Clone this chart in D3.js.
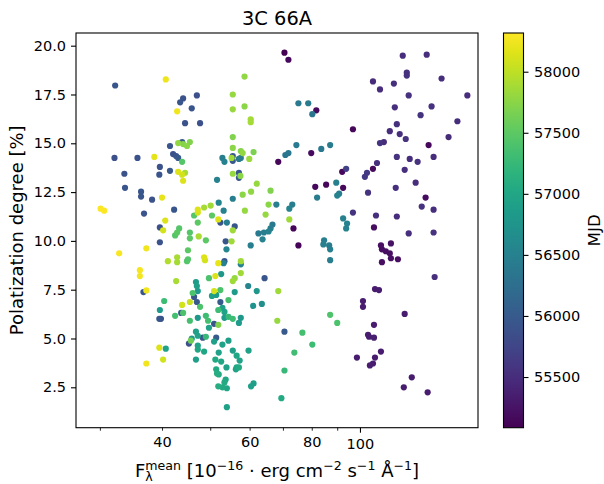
<!DOCTYPE html>
<html>
<head>
<meta charset="utf-8">
<script src="https://cdn.jsdelivr.net/npm/d3@7"></script>
<style>
  body { margin: 0; background: #fff; }
  text { font-family: "DejaVu Sans", sans-serif; fill: #000; }
</style>
</head>
<body>
<svg id="chart"></svg>
<script>

// mean flux density (10^-16 erg cm^-2 s^-1 A^-1)
const flux = [
  32.2, 40.7, 44.1, 43.5, 47.0, 45.9, 42.9, 44.5, 47.7, 41.5,
  43.9, 43.1, 44.1, 44.9, 45.5, 42.1, 42.7, 43.1, 43.9, 32.1,
  35.7, 38.6, 70.5, 71.8, 58.6, 55.5, 58.6, 55.5, 60.3, 60.3,
  75.2, 78.7, 80.2, 81.7, 55.5, 55.5, 57.6, 58.1, 61.1, 52.9,
  53.4, 55.2, 55.5, 57.1, 57.6, 59.9, 55.5, 74.5, 71.8, 70.8,
  79.8, 83.6, 87.1, 68.5, 121.9, 136.2, 124.2, 124.2, 106.2, 109.7,
  117.0, 145.9, 125.3, 164.4, 117.5, 139.3, 132.4, 157.0, 118.6, 96.8,
  114.8, 120.2, 123.6, 109.7, 111.7, 150.7, 137.4, 108.2, 118.6, 125.9,
  130.6, 140.6, 93.8, 92.1, 106.2, 103.3, 102.3, 85.5, 89.6, 92.5,
  90.8, 90.0, 103.8, 118.0, 123.0, 129.4, 135.5, 133.1, 140.6, 96.8,
  107.7, 118.6, 92.5, 94.2, 93.8, 106.7, 125.3, 140.6, 84.7, 84.4,
  86.7, 87.1, 87.1, 110.2, 110.7, 112.7, 114.8, 115.4, 115.4, 119.2,
  110.7, 141.3, 81.3, 82.0, 73.5, 75.2, 107.2, 109.2, 101.4, 101.4,
  87.1, 90.0, 123.0, 106.7, 103.8, 104.3, 106.7, 110.2, 98.6, 107.2,
  106.2, 104.7, 127.1, 122.5, 136.8, 68.5, 62.0, 61.0, 63.5, 68.2,
  70.5, 76.6, 80.2, 73.8, 70.5, 69.5, 59.7, 60.4, 61.1, 54.0,
  50.9, 52.4, 56.0, 46.4, 47.0, 47.7, 50.4, 51.4, 52.4, 54.4,
  51.9, 52.9, 53.4, 49.0, 49.5, 47.2, 53.4, 54.4, 55.5, 57.6,
  57.1, 50.9, 51.9, 49.7, 46.8, 47.2, 49.0, 48.3, 45.7, 51.4,
  50.9, 52.9, 54.4, 47.2, 47.2, 48.6, 52.0, 55.5, 56.5, 57.3,
  46.8, 51.2, 52.6, 53.9, 56.5, 57.1, 56.3, 51.4, 51.6, 52.0,
  53.7, 53.4, 51.9, 52.9, 54.0, 36.7, 37.2, 40.4, 39.6, 39.5,
  39.8, 42.5, 43.9, 43.7, 44.1, 45.5, 45.5, 46.1, 45.9, 45.3,
  39.5, 40.7, 40.2, 37.2, 33.6, 33.7, 36.3, 36.3, 38.2, 36.8,
  39.6, 39.5, 41.5, 43.1, 43.9, 44.5, 44.1, 40.0, 42.3, 30.1,
  30.6, 40.6, 39.6, 40.2, 43.3, 42.9, 42.5, 45.5, 45.5, 47.4,
  46.4, 47.2, 47.2, 47.2, 39.6, 32.8, 37.2, 41.1, 42.9, 42.9,
  44.9, 45.1, 45.1, 36.1, 36.1, 42.7, 46.8, 47.0, 47.2, 55.5,
  57.1, 57.5, 57.1, 51.6, 62.0, 58.1, 60.4, 66.1, 55.5, 52.0,
  50.1, 48.6, 53.2, 58.7, 50.4, 51.9, 52.4, 54.0, 56.0, 55.5,
  67.9, 65.5, 64.6, 72.1, 73.1, 72.1, 66.7, 66.1, 65.5, 64.1,
  62.5, 63.7, 49.0, 53.7, 55.2, 53.9, 60.3, 48.6, 48.8, 53.4,
  53.2, 51.9, 57.6, 57.6, 57.6, 56.0, 55.5, 64.3, 52.6, 51.2,
  49.7, 59.6
];

// polarization degree (%)
const polDeg = [
  17.96, 18.27, 17.30, 17.10, 17.45, 16.79, 16.64, 16.03, 16.03, 14.86,
  15.06, 15.01, 14.96, 14.86, 15.06, 14.45, 14.35, 14.25, 14.05, 14.25,
  14.25, 14.30, 19.64, 19.28, 18.42, 17.50, 16.89, 16.74, 16.23, 16.08,
  17.05, 17.05, 16.49, 16.69, 15.32, 14.76, 14.60, 14.50, 14.55, 14.25,
  14.05, 14.25, 14.35, 14.20, 14.25, 14.20, 14.10, 14.91, 14.50, 14.40,
  14.50, 14.71, 14.91, 14.05, 19.49, 19.54, 18.62, 18.47, 18.17, 17.76,
  18.06, 18.32, 17.45, 17.45, 16.84, 16.89, 16.44, 16.13, 15.98, 15.72,
  15.62, 15.47, 15.22, 15.01, 15.06, 15.32, 14.91, 13.99, 14.30, 14.20,
  14.05, 14.30, 13.69, 13.54, 13.69, 13.49, 13.28, 12.88, 12.98, 12.72,
  12.42, 12.32, 12.47, 12.72, 13.64, 12.98, 12.22, 11.76, 11.60, 11.45,
  11.30, 11.25, 11.15, 10.89, 10.64, 10.69, 10.38, 10.43, 10.03, 9.82,
  9.77, 9.57, 9.01, 9.77, 9.57, 9.47, 9.36, 9.11, 9.87, 9.06,
  8.91, 8.15, 12.77, 12.22, 10.64, 9.77, 7.53, 7.48, 6.92, 6.62,
  6.21, 5.80, 6.26, 5.70, 5.19, 5.09, 5.04, 4.33, 4.02, 4.02,
  3.72, 3.62, 3.01, 2.50, 2.24, 7.43, 7.43, 6.67, 6.77, 5.91,
  5.35, 5.30, 4.69, 4.28, 3.36, 1.94, 4.38, 2.55, 2.70, 1.48,
  7.43, 7.48, 7.38, 7.13, 6.87, 6.62, 7.18, 7.23, 6.87, 6.97,
  6.46, 6.57, 6.36, 6.16, 5.91, 6.06, 6.06, 6.11, 6.01, 6.06,
  5.80, 5.75, 5.70, 5.55, 5.35, 5.14, 5.09, 5.04, 4.89, 5.04,
  4.84, 4.69, 4.89, 4.63, 4.43, 4.33, 4.28, 4.38, 4.12, 3.87,
  3.92, 3.92, 3.82, 3.52, 3.52, 3.52, 3.42, 3.42, 3.21, 3.16,
  2.90, 2.75, 2.55, 2.50, 2.45, 7.38, 7.46, 6.92, 6.46, 6.01,
  6.01, 6.16, 6.72, 6.31, 6.31, 5.91, 6.87, 7.33, 4.99, 4.74,
  4.53, 4.48, 3.92, 3.72, 13.44, 12.72, 12.52, 12.27, 12.11, 11.40,
  13.79, 13.39, 13.59, 13.54, 13.39, 13.49, 13.08, 12.22, 11.60, 11.65,
  11.55, 11.04, 10.69, 10.54, 10.64, 10.43, 10.28, 10.43, 10.13, 10.23,
  11.30, 10.94, 11.60, 11.45, 9.93, 9.36, 9.62, 8.96, 9.16, 8.91,
  8.96, 9.52, 9.06, 8.50, 8.20, 7.94, 7.89, 7.69, 7.43, 13.44,
  13.49, 13.33, 13.23, 13.13, 12.93, 12.37, 12.52, 12.57, 12.16, 11.96,
  11.81, 11.71, 11.55, 11.55, 11.30, 11.10, 10.94, 10.94, 10.74, 10.54,
  11.86, 11.86, 11.35, 11.65, 11.86, 11.10, 10.84, 10.64, 10.48, 10.43,
  10.38, 10.08, 10.03, 9.98, 9.98, 9.57, 9.77, 9.16, 9.01, 8.96,
  8.86, 8.86, 8.96, 8.80, 8.35, 8.09, 7.94, 8.09, 8.30, 8.20,
  8.09, 7.69
];

// observation date (MJD)
const mjd = [
  55950, 58230, 55900, 55920, 55880, 55930, 58250, 55900, 55870, 55950,
  56000, 57780, 57720, 57760, 57700, 55900, 55930, 55960, 57450, 55870,
  55900, 58180, 55085, 55160, 57780, 57800, 57750, 57820, 57870, 57880,
  56400, 56420, 56350, 55170, 57700, 57760, 57720, 57790, 57680, 56450,
  56500, 57850, 55950, 56380, 56420, 57830, 55980, 56400, 56360, 56330,
  55180, 56380, 56420, 55140, 55500, 55520, 55540, 55560, 55480, 55500,
  55530, 55510, 55550, 55490, 55520, 55540, 55560, 55510, 55530, 55140,
  55500, 55520, 55540, 55560, 55500, 55480, 55160, 55530, 55550, 55510,
  55540, 55500, 55700, 55150, 55170, 55620, 55640, 55140, 56480, 55160,
  56450, 56500, 55560, 55530, 55520, 55500, 55180, 55540, 55510, 55560,
  55530, 55500, 56480, 56500, 56520, 55190, 55520, 55540, 56450, 56480,
  56420, 56460, 56440, 55200, 55190, 55210, 55200, 55220, 55230, 55210,
  55190, 55520, 55150, 56440, 55130, 55120, 55320, 55340, 55350, 55330,
  57420, 57400, 55350, 55330, 55350, 55340, 55360, 55330, 55350, 55340,
  55350, 55360, 55330, 55350, 55340, 57850, 56800, 56750, 56700, 57800,
  55980, 57350, 57300, 57320, 57250, 57050, 56950, 56900, 56880, 56950,
  58100, 57400, 56850, 55950, 55980, 57400, 56900, 56850, 56000, 57350,
  57300, 56900, 56950, 57300, 57350, 56800, 56850, 57250, 57300, 56800,
  56850, 55950, 57700, 56950, 56900, 56950, 57250, 55950, 57600, 56000,
  56900, 56950, 56900, 56950, 57000, 57000, 56950, 56900, 57000, 56950,
  56900, 57050, 57000, 56950, 57000, 57050, 56950, 57050, 57100, 57050,
  57000, 57050, 57100, 57050, 57000, 55950, 58250, 57300, 56850, 55950,
  55900, 57350, 58100, 55950, 57400, 57350, 58050, 57400, 56850, 55900,
  58150, 56950, 58100, 58250, 55900, 55920, 55950, 55930, 55900, 55920,
  55900, 55930, 55960, 58150, 58100, 57900, 58150, 58200, 55950, 58300,
  58317, 58150, 55880, 58100, 57450, 57500, 57450, 57450, 57500, 57900,
  57450, 57500, 58150, 58100, 55900, 58280, 58250, 57950, 57900, 57880,
  57450, 57500, 57450, 58270, 58260, 57900, 56850, 56900, 56850, 57800,
  55950, 57750, 55980, 56500, 57800, 57750, 57780, 57700, 56450, 56550,
  57850, 57880, 56500, 57800, 57500, 58150, 55950, 56450, 55950, 57850,
  56450, 57750, 57800, 56500, 56450, 57850, 56400, 56450, 56500, 56450,
  56400, 56500, 57500, 55950, 57850, 56550, 56450, 58150, 58100, 55950,
  56500, 58200, 57850, 56500, 57850, 57800, 57850, 55950, 56800, 58150,
  57400, 56550
];

const yTicks = [2.5, 5.0, 7.5, 10.0, 12.5, 15.0, 17.5, 20.0];
const xMinorTicks = [30, 40, 50, 60, 70, 80, 90];
const xMinorLabels = [40, 60, 80];
const xMajorTicks = [100];
const cbTicks = [55500, 56000, 56500, 57000, 57500, 58000];

const width = 604, height = 484;
const plot = { left: 76, right: 478, top: 33, bottom: 427.7 };
const cbar = { x: 503.5, w: 20 };

const svg = d3.select("#chart")
  .attr("width", width)
  .attr("height", height);

const x = d3.scaleLog()
  .domain([26.86, 172.7])
  .range([plot.left, plot.right]);

const y = d3.scaleLinear()
  .domain([0.43, 20.65])
  .range([plot.bottom, plot.top]);

const mjdExtent = d3.extent(mjd);
const colour = d3.scaleSequential(d3.interpolateViridis).domain(mjdExtent);

// draw in time order, newest on top
const points = flux.map((f, i) => ({ f: f, p: polDeg[i], m: mjd[i] }))
  .sort((a, b) => a.m - b.m);

svg.append("g")
  .attr("class", "points")
  .selectAll("circle")
  .data(points)
  .enter()
  .append("circle")
  .attr("cx", d => x(d.f))
  .attr("cy", d => y(d.p))
  .attr("r", 3.1)
  .attr("fill", d => colour(d.m));

// y axis
const yAxis = svg.append("g")
  .attr("transform", `translate(${plot.left},0)`)
  .call(d3.axisLeft(y).tickValues(yTicks).tickFormat(d3.format(".1f"))
    .tickSize(5).tickPadding(5));

// x axis: labelled minor ticks + major decade tick
const xMinor = svg.append("g")
  .attr("transform", `translate(0,${plot.bottom})`)
  .call(d3.axisBottom(x).tickValues(xMinorTicks)
    .tickFormat(d => xMinorLabels.includes(d) ? d : "")
    .tickSize(3).tickPadding(6));

const xMajor = svg.append("g")
  .attr("transform", `translate(0,${plot.bottom})`)
  .call(d3.axisBottom(x).tickValues(xMajorTicks).tickFormat(d3.format("d"))
    .tickSize(5).tickPadding(6));

[yAxis, xMinor, xMajor].forEach(g => {
  g.select(".domain").remove();
  g.selectAll(".tick line").attr("stroke", "#000").attr("stroke-width", 1.1);
  g.selectAll(".tick text")
    .style("font-family", "DejaVu Sans")
    .style("font-size", "14.5px")
    .attr("fill", "#000");
});
xMinor.selectAll(".tick line").attr("stroke-width", 0.85);

// frame
svg.append("rect")
  .attr("x", plot.left)
  .attr("y", plot.top)
  .attr("width", plot.right - plot.left)
  .attr("height", plot.bottom - plot.top)
  .attr("fill", "none")
  .attr("stroke", "#000")
  .attr("stroke-width", 1.1);

// title
svg.append("text")
  .attr("x", (plot.left + plot.right) / 2)
  .attr("y", 25)
  .attr("text-anchor", "middle")
  .style("font-size", "19.4px")
  .text("3C 66A");

// y label
svg.append("text")
  .attr("transform", `translate(22.5,${(plot.top + plot.bottom) / 2}) rotate(-90)`)
  .attr("text-anchor", "middle")
  .style("font-size", "18px")
  .text("Polatization degree [%]");

// x label with sub/superscripts
const xl = svg.append("text")
  .attr("x", (plot.left + plot.right) / 2)
  .attr("y", 477)
  .attr("text-anchor", "middle")
  .style("font-size", "18px");

xl.append("tspan").text("F");
const lam = xl.append("tspan").attr("dy", 4).style("font-size", "12.6px").text("λ");
const lamW = lam.node().getComputedTextLength();
xl.append("tspan").attr("dx", -lamW).attr("dy", -11.5).style("font-size", "12.6px").text("mean");
xl.append("tspan").attr("dy", 7.5).text(" [10");
const parts = [["−16", "sup"], [" · erg cm", "n"], ["−2", "sup"], [" s", "n"],
  ["−1", "sup"], [" Å", "n"], ["−1", "sup"], ["]", "n"]];
parts.forEach(pt => {
  xl.append("tspan")
    .attr("dy", pt[1] === "sup" ? -7.5 : 7.5)
    .style("font-size", pt[1] === "sup" ? "12.6px" : "18px")
    .text(pt[0]);
});

// colorbar
const defs = svg.append("defs");
const grad = defs.append("linearGradient")
  .attr("id", "viridis-grad")
  .attr("x1", 0).attr("y1", 1).attr("x2", 0).attr("y2", 0);
d3.range(0, 1.0001, 0.05).forEach(t => {
  grad.append("stop")
    .attr("offset", t)
    .attr("stop-color", d3.interpolateViridis(t));
});

svg.append("rect")
  .attr("x", cbar.x)
  .attr("y", plot.top)
  .attr("width", cbar.w)
  .attr("height", plot.bottom - plot.top)
  .attr("fill", "url(#viridis-grad)")
  .attr("stroke", "#000")
  .attr("stroke-width", 1.1);

const cScale = d3.scaleLinear()
  .domain(mjdExtent)
  .range([plot.bottom, plot.top]);

const cAxis = svg.append("g")
  .attr("transform", `translate(${cbar.x + cbar.w},0)`)
  .call(d3.axisRight(cScale).tickValues(cbTicks).tickFormat(d3.format("d"))
    .tickSize(5).tickPadding(5.5));
cAxis.select(".domain").remove();
cAxis.selectAll(".tick line").attr("stroke", "#000").attr("stroke-width", 1.1);
cAxis.selectAll(".tick text")
  .style("font-family", "DejaVu Sans")
  .style("font-size", "14.5px")
  .attr("fill", "#000");

svg.append("text")
  .attr("transform", `translate(599.5,${(plot.top + plot.bottom) / 2}) rotate(-90)`)
  .attr("text-anchor", "middle")
  .style("font-size", "16.7px")
  .text("MJD");

</script>
</body>
</html>
